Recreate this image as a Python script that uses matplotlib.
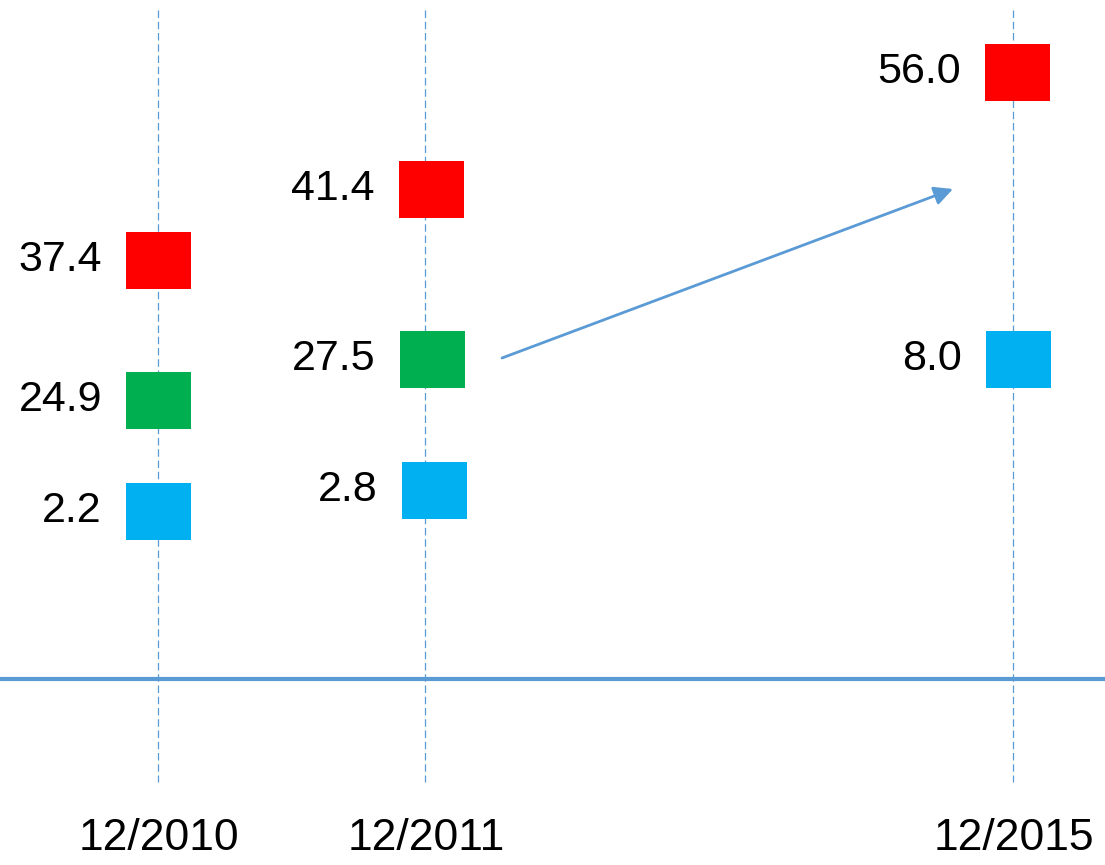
import matplotlib
matplotlib.use("Agg")
import matplotlib.pyplot as plt

plt.rcParams["font.family"] = ["Liberation Sans", "DejaVu Sans"]

# timeline periods and where each sits on the (schematic) horizontal axis
periods = ["12/2010", "12/2011", "12/2015"]
period_x = [158, 425, 1013]

# series values, their schematic vertical levels and box centres (None = no point)
red_vals = [37.4, 41.4, 56.0]
red_level = [260, 189, 72]
red_x = [158.5, 431.5, 1017.5]
green_vals = [24.9, 27.5, None]
green_level = [400, 359, None]
green_x = [158.5, 432.5, None]
blue_vals = [2.2, 2.8, 8.0]
blue_level = [511, 490, 359]
blue_x = [158.5, 434.5, 1018.5]

series = [
    (red_vals, red_level, red_x, "#ff0000"),
    (green_vals, green_level, green_x, "#00b050"),
    (blue_vals, blue_level, blue_x, "#00b0f0"),
]

line_color = "#5b9bd5"
box_w, box_h = 65, 57

fig = plt.figure(figsize=(11.05, 8.65), dpi=100)
ax = fig.add_axes([0, 0, 1, 1])
ax.set_xlim(0, 1105)
ax.set_ylim(865, 0)
ax.axis("off")

# dashed guide lines per period
ax.vlines(period_x, 10, 782, colors=line_color, linewidth=0.9,
          linestyles=(0, (6, 3)), zorder=1)
# baseline
ax.axhline(679, color=line_color, linewidth=3.0, zorder=1)

for vals, levels, xs, color in series:
    for x, v, y in zip(xs, vals, levels):
        if v is None:
            continue
        ax.bar(x, box_h, bottom=y - box_h / 2, width=box_w,
               color=color, zorder=3)
        ax.text(x - box_w / 2 - 24, y, f"{v:.1f}", fontsize=31,
                ha="right", va="center", color="black")

# arrow pointing to the 2015 target
ax.annotate("", xy=(953, 189), xytext=(502, 358),
            arrowprops=dict(arrowstyle="-|>", color=line_color, lw=2,
                            mutation_scale=28, shrinkA=0, shrinkB=0))

for x, lab in zip(period_x, periods):
    ax.text(x + 1, 838, lab, fontsize=32, ha="center", va="center",
            color="black")

fig.savefig("out.png", dpi=100)
